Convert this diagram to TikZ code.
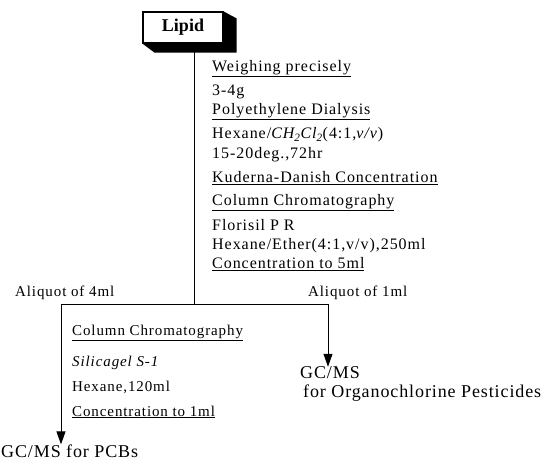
\documentclass[tikz,border=0pt]{standalone}
\usepackage{fontspec}
\setmainfont{Liberation Serif}
\newfontfamily\stepfont[LetterSpace=6]{Liberation Serif}
\newfontfamily\outfont[LetterSpace=5]{Liberation Serif}
\usetikzlibrary{positioning}
\usetikzlibrary{calc}
\usetikzlibrary{arrows.meta}

\tikzset{
    steptext/.style={anchor=west, inner sep=0pt, font=\stepfont\fontsize{16}{19}\selectfont},
    subtext/.style={anchor=west, inner sep=0pt, font=\stepfont\fontsize{15}{18}\selectfont},
    outtext/.style={inner sep=0pt, font=\outfont\fontsize{18}{21}\selectfont},
    flow/.style={line width=1pt},
    arr/.style={flow, -{Triangle[length=13pt,width=9pt]}},
}

\begin{document}
\begin{tikzpicture}[x=1pt, y=-1pt]
    \useasboundingbox (0,0) rectangle (557,461);

    % sample box with its dark shadow
    \node[draw, line width=1.2pt, fill=white, minimum width=80pt, minimum height=31pt, inner sep=0pt,
          font=\bfseries\fontsize{18}{20}\selectfont] (lipid) at (183,27.5) {Lipid};
    \fill (lipid.south west) -- ($(lipid.south west)+(12,9)$) -- ($(lipid.south east)+(13,9)$)
          -- ($(lipid.north east)+(13,7)$) -- (lipid.north east) -- (lipid.south east) -- cycle;

    % main clean-up steps
    \foreach \n/\y/\t in {1/69/{\underline{Weighing precisely}},
                          2/92/{3-4g},
                          3/112/{\underline{Polyethylene Dialysis}},
                          4/135/{Hexane/\textit{CH\textsubscript{2}Cl\textsubscript{2}}(4:1,\textit{v/v})},
                          5/155/{15-20deg.,72hr},
                          6/178/{\underline{Kuderna-Danish Concentration}},
                          7/203/{\underline{Column Chromatography}},
                          8/225/{Florisil P R},
                          9/246/{Hexane/Ether(4:1,v/v),250ml},
                          10/264/{\underline{Concentration to 5ml}}} {
        \node[steptext] (step\n) at (212,\y) {\t};
    }

    % split into two aliquots
    \coordinate (split) at (194,304);
    \coordinate (lsplit) at (61,304);
    \coordinate (rsplit) at (328,304);
    \node[subtext] (aliq4) at (15,293) {Aliquot of 4ml};
    \node[subtext] (aliq1) at (308,293) {Aliquot of 1ml};

    % second clean-up for PCBs
    \foreach \n/\y/\t in {1/333/{\underline{Column Chromatography}},
                          2/363/{\textit{Silicagel S-1}},
                          3/387/{Hexane,120ml},
                          4/412/{\underline{Concentration to 1ml}}} {
        \node[subtext] (sub\n) at (72,\y) {\t};
    }

    \node[outtext, anchor=west] (gcms) at (300,373) {GC/MS};
    \node[outtext, anchor=west] (ocp) at (303,393) {for Organochlorine Pesticides};
    \node[outtext, anchor=west] (pcb) at (1,451) {GC/MS for PCBs};

    \draw[flow] (split |- lipid.south) -- (split);
    \draw[flow] (lsplit) -- (rsplit);
    \draw[arr] (lsplit) -- (lsplit |- pcb.north);
    \draw[arr] (rsplit) -- (rsplit |- gcms.north);
\end{tikzpicture}
\end{document}
